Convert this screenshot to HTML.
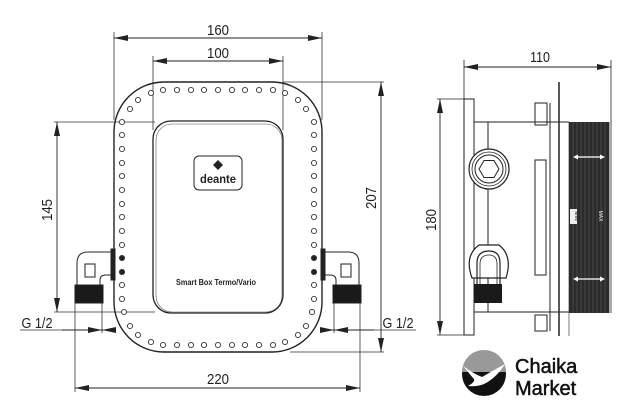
<!DOCTYPE html>
<html><head><meta charset="utf-8"><style>
html,body{margin:0;padding:0;background:#fff;}
svg{display:block;}
text{font-family:"Liberation Sans",sans-serif;}
</style></head><body>
<svg width="635" height="413" viewBox="0 0 635 413" xmlns="http://www.w3.org/2000/svg">
<defs>
<marker id="a" viewBox="0 0 14 6" refX="14" refY="3" markerWidth="14" markerHeight="6" orient="auto-start-reverse" markerUnits="userSpaceOnUse"><path d="M0,0 L14,3 L0,6 Z" fill="#222"/></marker>
</defs>
<g stroke="#333" stroke-width="0.8" fill="none">
<line x1="114" y1="32" x2="114" y2="120"/>
<line x1="322" y1="32" x2="322" y2="120"/>
<line x1="153" y1="56" x2="153" y2="130"/>
<line x1="283" y1="56" x2="283" y2="130"/>
<line x1="283" y1="82" x2="384" y2="82"/>
<line x1="290" y1="352" x2="384" y2="352"/>
<line x1="54" y1="122" x2="155" y2="122"/>
<line x1="54" y1="312" x2="155" y2="312"/>
<line x1="75" y1="303" x2="75" y2="392"/>
<line x1="360" y1="303" x2="360" y2="392"/>
<line x1="102" y1="303" x2="102" y2="333"/>
<line x1="334" y1="303" x2="334" y2="333"/>
<line x1="20" y1="330" x2="62" y2="330"/>
<line x1="372" y1="330" x2="416" y2="330"/>
</g>
<g stroke="#222" stroke-width="0.9" fill="none">
<line x1="114" y1="38" x2="322" y2="38" marker-start="url(#a)" marker-end="url(#a)"/>
<line x1="153" y1="61" x2="283" y2="61" marker-start="url(#a)" marker-end="url(#a)"/>
<line x1="57" y1="122" x2="57" y2="312" marker-start="url(#a)" marker-end="url(#a)"/>
<line x1="381" y1="82" x2="381" y2="352" marker-start="url(#a)" marker-end="url(#a)"/>
<line x1="75" y1="388" x2="360" y2="388" marker-start="url(#a)" marker-end="url(#a)"/>
<line x1="62" y1="330" x2="102" y2="330" marker-end="url(#a)"/>
<line x1="116" y1="330" x2="102" y2="330" marker-end="url(#a)"/>
<line x1="374" y1="330" x2="334" y2="330" marker-end="url(#a)"/>
<line x1="320" y1="330" x2="334" y2="330" marker-end="url(#a)"/>
</g>
<g font-size="15" fill="#222" text-anchor="middle">
<text x="218" y="35" textLength="22" lengthAdjust="spacingAndGlyphs">160</text>
<text x="218" y="58" textLength="22" lengthAdjust="spacingAndGlyphs">100</text>
<text x="218" y="384" textLength="22" lengthAdjust="spacingAndGlyphs">220</text>
<text transform="translate(52,210) rotate(-90)" textLength="22" lengthAdjust="spacingAndGlyphs">145</text>
<text transform="translate(376,198) rotate(-90)" textLength="22" lengthAdjust="spacingAndGlyphs">207</text>
<text x="37" y="328" textLength="31" lengthAdjust="spacingAndGlyphs">G 1/2</text>
<text x="398" y="328" textLength="31" lengthAdjust="spacingAndGlyphs">G 1/2</text>
<text x="540" y="62" textLength="20" lengthAdjust="spacingAndGlyphs">110</text>
<text transform="translate(436,220) rotate(-90)" textLength="22" lengthAdjust="spacingAndGlyphs">180</text>
</g>
<rect x="114" y="82" width="208" height="270" rx="50" fill="none" stroke="#222" stroke-width="1.4"/>
<rect x="153" y="121" width="130" height="192" rx="18" fill="none" stroke="#222" stroke-width="1.3"/>
<rect x="156" y="124" width="126" height="188" rx="16" fill="none" stroke="#555" stroke-width="0.6"/>
<rect x="194" y="156" width="48" height="34" rx="5" fill="none" stroke="#222" stroke-width="1"/>
<path d="M218,160 L223,165 L218,170 L213,165 Z" fill="#222"/>
<text x="218" y="183" font-size="12" font-weight="bold" text-anchor="middle" fill="#222" font-family="Liberation Serif,serif" textLength="36" lengthAdjust="spacingAndGlyphs">deante</text>
<text x="216" y="285" font-size="8" font-weight="bold" text-anchor="middle" fill="#222" textLength="80" lengthAdjust="spacingAndGlyphs">Smart Box Termo/Vario</text>
<g fill="#fff" stroke="#333" stroke-width="0.9">
<g id="row">
<circle cx="163" cy="90" r="2.6"/><circle cx="177" cy="90" r="2.6"/><circle cx="191" cy="90" r="2.6"/><circle cx="204" cy="90" r="2.6"/><circle cx="218" cy="90" r="2.6"/><circle cx="232" cy="90" r="2.6"/><circle cx="245" cy="90" r="2.6"/><circle cx="259" cy="90" r="2.6"/><circle cx="273" cy="90" r="2.6"/>
</g>
<use href="#row" transform="translate(0,255)"/>
<g id="corner">
<circle cx="151" cy="93" r="2.6"/><circle cx="138" cy="100" r="2.6"/><circle cx="130" cy="109" r="2.6"/>
</g>
<use href="#corner" transform="translate(436,0) scale(-1,1)"/>
<use href="#corner" transform="translate(0,435) scale(1,-1)"/>
<use href="#corner" transform="translate(436,435) scale(-1,-1)"/>
<g id="col">
<circle cx="122" cy="122" r="2.6"/><circle cx="122" cy="135" r="2.6"/><circle cx="122" cy="149" r="2.6"/><circle cx="122" cy="163" r="2.6"/><circle cx="122" cy="176" r="2.6"/><circle cx="122" cy="190" r="2.6"/><circle cx="122" cy="204" r="2.6"/><circle cx="122" cy="217" r="2.6"/><circle cx="122" cy="231" r="2.6"/><circle cx="122" cy="245" r="2.6"/><circle cx="122" cy="258" r="2.6" fill="#222"/><circle cx="122" cy="272" r="2.6" fill="#222"/><circle cx="122" cy="285" r="2.6"/><circle cx="122" cy="299" r="2.6"/><circle cx="124" cy="312" r="2.6"/>
</g>
<use href="#col" transform="translate(436,0) scale(-1,1)"/>
</g>
<g id="conn" fill="none" stroke="#222" stroke-width="1">
<path d="M111,252 L88,252 Q77,252 77,263 L77,285 M100,285 L100,280 Q100,275 106,275 L111,275"/>
<rect x="111" y="249" width="4" height="31" fill="#222"/>
<rect x="85" y="264" width="10" height="13"/>
<rect x="75" y="285" width="28" height="18" fill="#1a1a1a"/>
</g>
<use href="#conn" transform="translate(436,0) scale(-1,1)"/>
<g fill="none" stroke="#222" stroke-width="1">
<line x1="464" y1="60" x2="464" y2="99" stroke-width="0.8"/>
<line x1="611" y1="60" x2="611" y2="122" stroke-width="0.8"/>
<line x1="437" y1="99" x2="470" y2="99" stroke-width="0.8"/>
<line x1="437" y1="335" x2="470" y2="335" stroke-width="0.8"/>
<rect x="464" y="99" width="10" height="236"/>
<line x1="474" y1="122" x2="569" y2="122"/>
<line x1="474" y1="312" x2="569" y2="312"/>
<line x1="488" y1="122" x2="488" y2="312"/>
<line x1="550" y1="103" x2="550" y2="331"/>
<rect x="535" y="103" width="12" height="22"/>
<rect x="535" y="315" width="12" height="16"/>
<rect x="535" y="160" width="11" height="115"/>
<line x1="559" y1="82" x2="559" y2="336" stroke-width="1.5"/>
<line x1="569" y1="122" x2="569" y2="336" stroke-width="0.6"/>
</g>
<g stroke="#222" stroke-width="0.9">
<line x1="464" y1="67" x2="611" y2="67" marker-start="url(#a)" marker-end="url(#a)"/>
<line x1="440" y1="99" x2="440" y2="335" marker-start="url(#a)" marker-end="url(#a)"/>
</g>
<circle cx="489" cy="169" r="20" fill="#fff" stroke="#222" stroke-width="1.2"/>
<circle cx="489" cy="169" r="17" fill="none" stroke="#222" stroke-width="0.8"/>
<circle cx="489" cy="169" r="14" fill="none" stroke="#222" stroke-width="1"/>
<path d="M479,169 L484,160.5 L494,160.5 L499,169 L494,177.5 L484,177.5 Z" fill="#fff" stroke="#222" stroke-width="1"/>
<path d="M472,278 Q464,256 479,245 L499,245 Q513,256 506,278 Z" fill="#fff" stroke="#222" stroke-width="1.2"/>
<path d="M477,284 L477,263 Q477,251 489,251 Q500,251 500,263 L500,284" fill="none" stroke="#222" stroke-width="1.2"/>
<path d="M480,284 L480,264 Q480,255 489,255 Q497,255 497,264 L497,284" fill="none" stroke="#222" stroke-width="0.8"/>
<rect x="474" y="284" width="28" height="19" fill="#1a1a1a"/>
<rect x="569" y="122" width="40" height="191" fill="#2b2b2b"/>
<rect x="609" y="122" width="3" height="191" fill="#aaa"/>
<g stroke="#555" stroke-width="0.7">
<line x1="573" y1="122" x2="573" y2="313"/><line x1="577" y1="122" x2="577" y2="313"/><line x1="581" y1="122" x2="581" y2="313"/><line x1="585" y1="122" x2="585" y2="313"/><line x1="589" y1="122" x2="589" y2="313"/><line x1="593" y1="122" x2="593" y2="313"/><line x1="597" y1="122" x2="597" y2="313"/><line x1="601" y1="122" x2="601" y2="313"/><line x1="605" y1="122" x2="605" y2="313"/>
</g>
<g stroke="#fff" stroke-width="1.2" fill="#fff">
<line x1="576" y1="157" x2="602" y2="157"/><path d="M573,157 L578,154.5 L578,159.5 Z M605,157 L600,154.5 L600,159.5 Z" stroke="none"/>
<line x1="576" y1="279" x2="602" y2="279"/><path d="M573,279 L578,276.5 L578,281.5 Z M605,279 L600,276.5 L600,281.5 Z" stroke="none"/>
</g>
<rect x="570" y="209" width="7" height="15" fill="#eee"/>
<text transform="translate(575,216) rotate(90)" font-size="5" fill="#222" text-anchor="middle">MIN</text>
<text transform="translate(599,216) rotate(90)" font-size="5" fill="#eee" text-anchor="middle">MAX</text>
<circle cx="484" cy="374" r="22" fill="#111"/>
<path d="M462,372 A22,22 0 0 1 506,372 Z" fill="#999"/>
<path d="M463,366 Q474,374 482,377 Q494,370 505,364 Q497,377 486,383 Q479,387 468,386 Q477,381 473,378 Q468,372 463,366 Z" fill="#fff"/>
<text x="515" y="373" font-size="20" fill="#111" stroke="#111" stroke-width="0.5">Chaika</text>
<text x="515" y="395" font-size="20" fill="#111" stroke="#111" stroke-width="0.5">Market</text>
</svg>
</body></html>
